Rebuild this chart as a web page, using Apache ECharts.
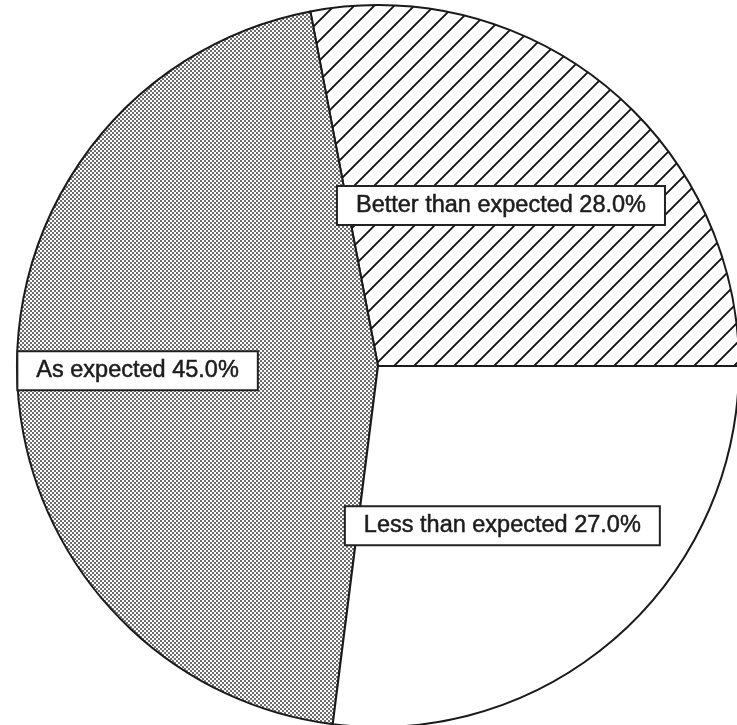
<!DOCTYPE html>
<html>
<head>
<meta charset="utf-8">
<script src="https://cdn.jsdelivr.net/npm/echarts@6/dist/echarts.min.js"></script>
<style>
  html, body { margin: 0; padding: 0; background: #fff; }
  #chart { width: 737px; height: 725px; }
</style>
</head>
<body>
<div id="chart"></div>
<script>
// Survey outcome shares
const categories = ['Better than expected', 'As expected', 'Less than expected'];
const shares = [28.0, 45.0, 27.0];

// Diagonal hatching tile
function hatchPattern() {
  const s = 20;
  const c = document.createElement('canvas');
  c.width = s; c.height = s;
  const g = c.getContext('2d');
  g.fillStyle = '#ffffff';
  g.fillRect(0, 0, s, s);
  g.strokeStyle = '#111111';
  g.lineWidth = 1.9;
  g.beginPath();
  g.moveTo(-2, s + 2); g.lineTo(s + 2, -2);
  g.moveTo(-2, 2); g.lineTo(2, -2);
  g.moveTo(s - 2, s + 2); g.lineTo(s + 2, s - 2);
  g.stroke();
  return c;
}

// Fine stipple tile
function stipplePattern() {
  const c = document.createElement('canvas');
  c.width = 4; c.height = 4;
  const g = c.getContext('2d');
  g.fillStyle = '#fcfcfc';
  g.fillRect(0, 0, 4, 4);
  g.fillStyle = '#6e6e6e';
  g.fillRect(0, 0, 2, 2);
  g.fillRect(2, 2, 2, 2);
  return c;
}

const fills = [
  { image: hatchPattern(), repeat: 'repeat' },
  { image: stipplePattern(), repeat: 'repeat' },
  '#ffffff'
];
const labelOffsets = [[6, -19], [-57, -1], [3, 22]];

const chart = echarts.init(document.getElementById('chart'), null, { renderer: 'canvas' });
chart.setOption({
  backgroundColor: '#ffffff',
  animation: false,
  series: [{
    type: 'pie',
    center: [378, 366],
    radius: [0, 361],
    startAngle: 0,
    clockwise: false,
    avoidLabelOverlap: false,
    labelLine: { show: false },
    itemStyle: { borderColor: '#1a1a1a', borderWidth: 2 },
    emphasis: { disabled: true },
    label: {
      show: true,
      position: 'inside',
      fontFamily: '"Liberation Sans", Arial, sans-serif',
      fontSize: 23.5,
      color: '#1c1c1c',
      textBorderColor: '#1c1c1c',
      textBorderWidth: 0.5,
      backgroundColor: '#ffffff',
      borderColor: '#222222',
      borderWidth: 2,
      padding: [7, 18, 6, 18],
      formatter: p => p.name + ' ' + p.value.toFixed(1) + '%'
    },
    data: categories.map((name, i) => ({
      name,
      value: shares[i],
      itemStyle: { color: fills[i] },
      label: { offset: labelOffsets[i] }
    }))
  }]
});
</script>
</body>
</html>
